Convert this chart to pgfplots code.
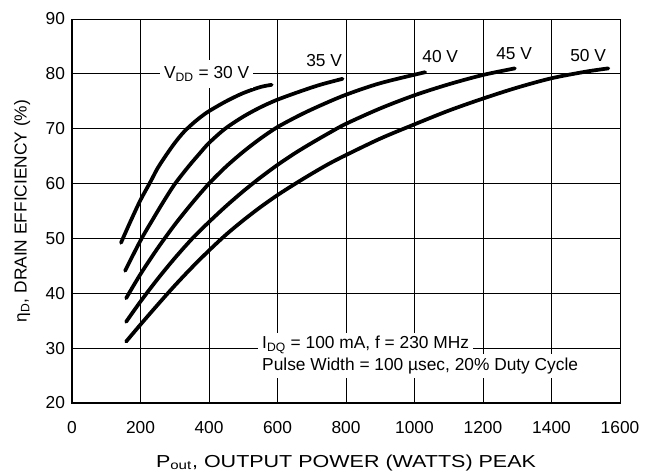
\documentclass[border=0pt]{standalone}
\usepackage{pgfplots}
\pgfplotsset{compat=1.18}
\usepackage{fontspec}
\setmainfont{Liberation Sans}

\begin{document}
\begin{tikzpicture}
\begin{axis}[
    width=411pt, height=288pt,
    scale only axis,
    xmin=0, xmax=1600,
    ymin=20, ymax=90,
    xtick={0,200,400,600,800,1000,1200,1400,1600},
    ytick={20,30,40,50,60,70,80,90},
    grid=major,
    grid style={black, line width=0.75pt},
    major tick length=0pt,
    axis line style={black, line width=0.75pt},
    tick label style={font=\fontsize{13}{15}\selectfont},
    xticklabel style={yshift=-10pt},
    yticklabel style={xshift=-1.7pt},
    /pgf/number format/assume math mode=true,
    /pgf/number format/1000 sep={},
    clip=false,
]
% VDD = 30 V
\addplot[black, line width=2.8pt, line cap=round, smooth] coordinates {
    (143,49.2)(170,53.0)(200,57.0)(228,60.2)(250,62.8)(275,65.2)(300,67.4)(325,69.3)(350,70.8)(375,72.1)(400,73.2)(450,75.0)(500,76.5)(550,77.6)(583,78.0)
};
% 35 V
\addplot[black, line width=2.8pt, line cap=round, smooth] coordinates {
    (155,44.1)(180,47.2)(206,50.3)(240,53.9)(267,56.7)(300,59.9)(340,63.1)(370,65.3)(400,67.4)(447,70.0)(500,72.2)(550,73.9)(600,75.3)(666,76.8)(724,78.0)(790,79.1)
};
% 40 V
\addplot[black, line width=2.8pt, line cap=round, smooth] coordinates {
    (158,39.1)(200,43.5)(250,48.2)(300,52.5)(350,56.4)(400,60.0)(450,63.1)(500,65.8)(550,68.2)(600,70.3)(666,72.5)(724,74.2)(800,76.2)(900,78.3)(1031,80.3)
};
% 45 V
\addplot[black, line width=2.8pt, line cap=round, smooth] coordinates {
    (158,34.8)(200,38.5)(250,42.6)(300,46.4)(350,49.9)(400,53.0)(450,55.9)(500,58.6)(550,61.1)(600,63.4)(650,65.5)(700,67.4)(750,69.2)(800,70.9)(900,73.7)(1000,76.1)(1100,78.1)(1200,79.8)(1293,81.0)
};
% 50 V
\addplot[black, line width=2.8pt, line cap=round, smooth] coordinates {
    (158,31.2)(200,34.3)(250,37.9)(300,41.4)(350,44.7)(400,47.8)(450,50.7)(500,53.3)(550,55.7)(600,57.9)(650,59.9)(700,61.8)(750,63.6)(800,65.2)(900,68.2)(1000,70.8)(1100,73.3)(1200,75.5)(1300,77.5)(1400,79.2)(1500,80.4)(1566,81.0)
};

\draw[black, line width=1.8pt] (rel axis cs:0,1) -- (rel axis cs:0,0) -- (rel axis cs:1,0);

\node[fill=white, inner xsep=3pt, inner ysep=5pt, font=\fontsize{13}{15}\selectfont] at (axis cs:393,80) {V\textsubscript{DD} = 30 V};
\node[font=\fontsize{13}{15}\selectfont] at (axis cs:736,82.5) {35 V};
\node[font=\fontsize{13}{15}\selectfont] at (axis cs:1075,83.1) {40 V};
\node[font=\fontsize{13}{15}\selectfont] at (axis cs:1291,83.7) {45 V};
\node[font=\fontsize{13}{15}\selectfont] at (axis cs:1507,83.4) {50 V};

\node[fill=white, anchor=west, inner xsep=3pt, inner ysep=2pt, font=\fontsize{13}{15}\selectfont] at (axis cs:543,30.6) {I\textsubscript{DQ} = 100 mA, f = 230 MHz};
\node[fill=white, anchor=west, inner xsep=3pt, inner ysep=3pt, font=\fontsize{13}{15}\selectfont] at (axis cs:543,26.7) {Pulse Width = 100 µsec, 20\% Duty Cycle};

\node[rotate=90, anchor=center, font=\fontsize{13}{15}\selectfont] at (rel axis cs:-0.0912,0.5) {η\textsubscript{D}, DRAIN EFFICIENCY (\%)};
\node[anchor=center, xscale=1.24, font=\fontsize{13}{15}\selectfont] at (rel axis cs:0.5,-0.156) {P\textsubscript{out}, OUTPUT POWER (WATTS) PEAK};

\coordinate (sw) at (rel axis cs:0,0);
\end{axis}
\pgfresetboundingbox
\path ([shift={(-54pt,-51.75pt)}]sw) rectangle ([shift={(432.75pt,302.25pt)}]sw);
\end{tikzpicture}
\end{document}
